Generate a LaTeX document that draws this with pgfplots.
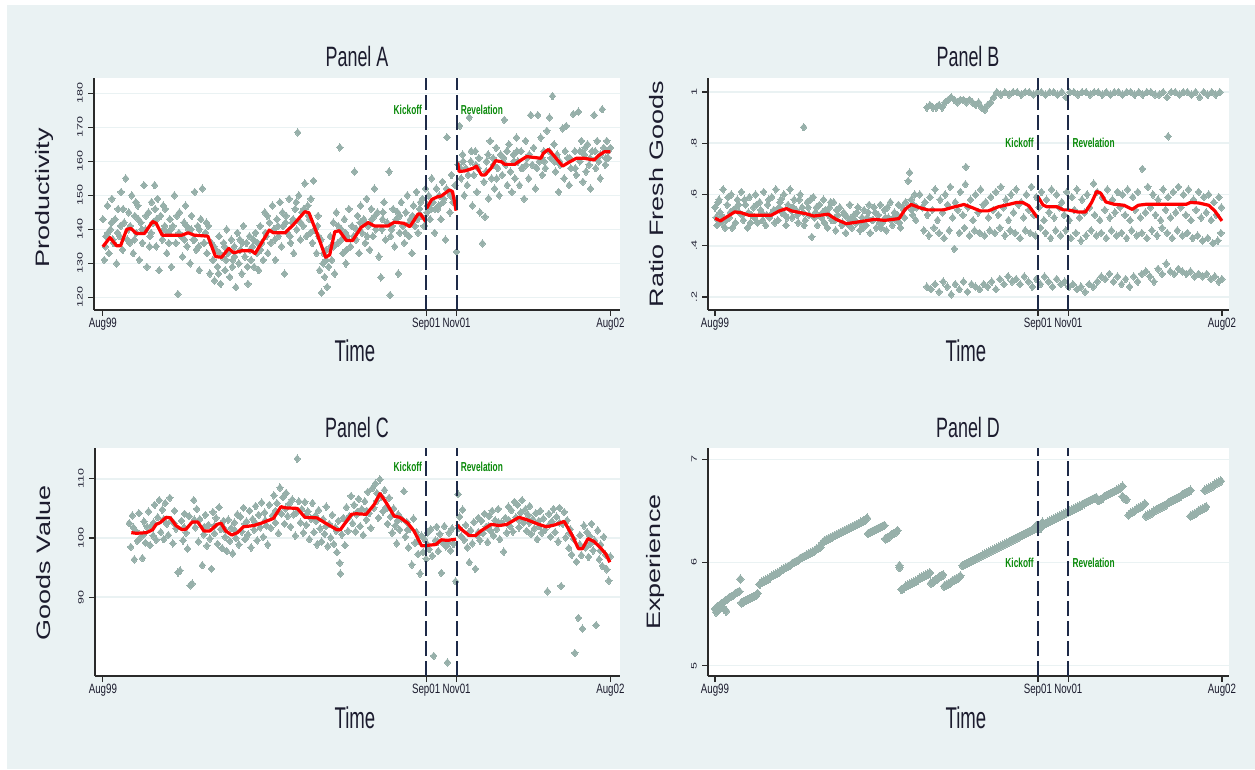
\documentclass[border=0pt]{standalone}
\usepackage{fontspec}
\setmainfont{Liberation Sans}
\usepackage{pgfplots}
\pgfplotsset{compat=1.18}
\definecolor{bgcol}{HTML}{EAF2F3}
\definecolor{dotcol}{HTML}{97B0AA}
\definecolor{navy}{HTML}{1E2A48}
\definecolor{txtcol}{HTML}{1C1C2E}
\definecolor{axiscol}{HTML}{2A2A2A}
\definecolor{kickcol}{HTML}{0A8A0A}
\newcommand{\sx}[1]{\scalebox{0.72}[1]{#1}}
\newcommand{\sk}[1]{\scalebox{0.64}[1]{#1}}
\newcommand{\sy}[1]{\scalebox{1}[0.62]{#1}}
\pgfplotsset{
  stata/.style={
    scale only axis, anchor=south west,
    axis x line*=bottom, axis y line*=left,
    axis line style={line width=1.2pt, draw=axiscol},
    tick style={line width=1.2pt, color=axiscol},
    tick align=outside, major tick length=6pt,
    ymajorgrids, grid style={line width=1.6pt, draw=bgcol},
    axis background/.style={fill=white},
    clip mode=individual,
    xtick={0,63.7,69.7,100},
    xticklabels={\sx{Aug99},\sx{Sep01},\sx{Nov01},\sx{Aug02}},
    xticklabel style={font=\fontsize{13.5}{14}\selectfont, text=txtcol, inner sep=1pt, yshift=-1pt},
    yticklabel style={font=\fontsize{12.5}{13}\selectfont, text=txtcol, xshift=-4pt, rotate=90, anchor=south, inner sep=1pt},
  },
  dots/.style={only marks, mark=diamond*, mark size=3.7pt, color=dotcol, mark options={line width=0pt, xscale=1.15}},
  redl/.style={no marks, color=red, line width=3.2pt, line join=round},
  vl/.style={no marks, color=navy, line width=2.1pt, dash pattern=on 15pt off 5pt},
}
\tikzset{
  kick/.style={font=\fontsize{13}{14}\selectfont\bfseries, text=kickcol, inner sep=1pt},
  ttl/.style={font=\fontsize{28}{30}\selectfont, text=txtcol, anchor=base, inner sep=0pt},
  xl/.style={font=\fontsize{30}{32}\selectfont, text=txtcol, anchor=base, inner sep=0pt},
  yl/.style={font=\fontsize{27}{29}\selectfont, text=txtcol, anchor=center, rotate=90, inner sep=0pt},
}
\begin{document}
\begin{tikzpicture}
\fill[white] (0pt,0pt) rectangle (1255pt,769pt);
\fill[bgcol] (7pt,0pt) rectangle (1255pt,764pt);

% ---------------- Panel A
\begin{axis}[stata, at={(94pt,459pt)}, width=526pt, height=232pt,
  xmin=-1.74, xmax=101.9, ymin=116.3, ymax=184.5,
  ytick={120,130,140,150,160,170,180},
  yticklabels={\sy{120},\sy{130},\sy{140},\sy{150},\sy{160},\sy{170},\sy{180}}]
\addplot[dots] coordinates {
(0.0,143) (0.3,131) (0.6,138) (0.9,147) (1.2,133) (1.5,140) (1.8,149) (2.1,136) (2.4,143) (2.7,130)
(3.0,146) (3.3,138) (3.6,151) (3.9,134) (4.2,142) (4.5,155) (4.8,137) (5.1,145) (5.4,141) (5.7,150)
(6.0,133) (6.3,144) (6.6,139) (6.9,147) (7.2,131) (7.5,142) (7.8,136) (8.1,153) (8.4,140) (8.7,129)
(9.0,145) (9.3,138) (9.6,148) (9.9,142) (10.2,153) (10.5,135) (10.8,149) (11.1,128) (11.4,144) (11.7,137)
(12.0,140) (12.3,146) (12.6,133) (12.9,139) (13.2,143) (13.5,129) (13.8,141) (14.1,150) (14.4,136) (14.8,121)
(15.1,145) (15.4,138) (15.7,132) (16.0,142) (16.3,147) (16.6,135) (16.9,140) (17.2,130) (17.5,144) (17.8,137)
(18.1,151) (18.4,134) (18.7,141) (19.0,128) (19.3,143) (19.6,152) (19.9,136) (20.2,139) (20.5,133) (20.8,141)
(21.1,127) (21.4,136) (21.7,131) (22.0,125) (22.3,134) (22.6,129) (22.9,138) (23.2,124) (23.5,132) (23.8,136)
(24.1,128) (24.4,140) (24.7,133) (25.0,126) (25.3,137) (25.6,131) (25.9,135) (26.2,123) (26.5,139) (26.8,130)
(27.1,134) (27.4,127) (27.7,141) (28.0,132) (28.3,136) (28.6,124) (28.9,138) (29.2,131) (29.5,135) (29.8,129)
(30.1,139) (30.4,133) (30.7,128) (31.0,141) (31.3,136) (31.6,131) (31.9,145) (32.2,138) (32.5,133) (32.8,142)
(33.1,136) (33.4,147) (33.7,140) (34.0,131) (34.3,143) (34.6,138) (34.9,148) (35.2,135) (35.5,141) (35.8,127)
(36.1,144) (36.4,139) (36.7,149) (37.0,136) (37.3,142) (37.6,133) (37.9,146) (38.2,140) (38.4,168.5) (38.6,150)
(38.9,137) (39.2,145) (39.5,141) (39.8,153.5) (40.1,138) (40.4,147) (40.7,143) (41.0,149) (41.3,136) (41.5,154.3)
(41.8,140) (42.1,133) (42.4,144) (42.7,128) (43.0,137) (43.1,121.4) (43.4,130) (43.7,126) (44.0,134) (44.2,123.1)
(44.5,129) (44.8,138) (45.1,131) (45.4,142) (45.7,127) (46.0,145) (46.3,136) (46.7,164.1) (47.0,140) (47.3,133)
(47.6,143) (47.9,130) (48.2,138) (48.5,146) (48.8,135) (49.1,141) (49.6,157) (49.9,137) (50.2,144) (50.5,133)
(50.8,147) (51.1,139) (51.4,143) (51.7,136) (52.0,149) (52.3,141) (52.6,134) (52.9,146) (53.2,138) (53.5,152)
(53.8,140) (54.1,145) (54.4,132) (54.8,125.9) (55.1,143) (55.4,148) (55.7,137) (56.0,142) (56.4,157) (56.6,120.7)
(56.9,140) (57.2,146) (57.5,135) (57.8,143) (58.2,127) (58.5,139) (58.8,148) (59.1,141) (59.4,136) (59.7,145)
(60.0,150) (60.3,138) (60.6,143) (60.9,133) (61.2,147) (61.5,141) (61.8,151) (62.1,139) (62.4,146) (62.7,144)
(63.0,149) (63.3,141) (63.6,152) (63.9,145) (64.2,150) (64.5,143) (64.8,155) (65.1,148) (65.4,139) (65.7,152)
(66.0,146) (66.3,150) (66.6,143) (66.9,154) (67.2,149) (67.5,137) (67.8,167.1) (68.1,151) (68.4,145) (68.7,156)
(69.0,148) (69.4,153) (69.7,133.4) (70.0,159) (70.3,170.4) (70.6,155) (70.9,162) (71.2,150) (71.5,158) (71.8,153)
(72.2,172.9) (72.5,160) (72.8,147) (73.1,156) (73.4,163) (73.7,151) (74.0,158) (74.3,145) (74.8,135.9) (75.1,154)
(75.3,143.7) (75.6,160) (76.0,149.1) (76.3,166) (76.6,155) (76.9,161) (77.2,152) (77.5,164) (77.8,158) (78.1,150)
(78.4,162) (78.7,156) (79.1,172.2) (79.4,159) (79.7,153) (80.0,165) (80.3,157) (80.6,151) (80.9,162) (81.2,155)
(81.5,167) (81.8,160) (82.1,153) (82.4,163) (82.7,158) (83.0,149) (83.3,166) (83.6,161) (83.9,155) (84.3,173.6)
(84.6,159) (84.9,164) (85.2,152) (85.7,173.6) (86.0,160) (86.3,167) (86.6,156) (86.9,163) (87.2,158) (87.5,169)
(88.0,172.9) (88.3,161) (88.6,179.2) (88.9,165) (89.2,157) (89.5,162) (89.8,151) (90.1,159) (90.6,169.7) (90.9,155)
(91.3,170.4) (91.6,161) (91.9,153) (92.2,158) (92.7,173.9) (93.0,163) (93.3,156) (93.7,174.6) (94.0,160) (94.3,166)
(94.6,154) (94.9,162) (95.2,157) (95.5,165) (95.8,159) (96.1,152) (96.4,163) (96.8,173.6) (97.1,158) (97.4,166)
(97.7,160) (98.0,155) (98.4,175.3) (98.7,164) (99.0,159) (99.3,166) (99.6,161) (100.0,164)
(1.0,139) (2.0,137) (3.5,141) (5.0,140) (6.2,137) (7.0,143) (8.5,144) (9.5,139) (10.3,146) (12.2,141)
(13.0,136) (15.0,139) (16.5,141) (18.0,137) (19.0,140) (20.0,136) (23.0,133) (24.0,135) (26.0,132) (27.5,136)
(29.0,134) (30.5,136) (32.0,139) (34.5,141) (36.0,142) (37.5,143) (39.0,142) (40.5,144) (42.5,138) (44.0,131)
(45.5,135) (47.0,137) (48.0,134) (50.0,140) (51.5,142) (53.0,143) (55.0,140) (57.0,141) (58.5,144) (60.5,142)
(62.0,143) (64.0,147) (65.5,146) (67.0,148) (68.5,150) (70.5,158) (72.0,156) (73.5,159) (75.5,157) (77.0,159)
(79.0,161) (81.0,160) (82.5,158) (84.0,162) (86.5,161) (88.0,163) (90.0,160) (92.0,161) (94.0,163) (96.0,161)
(98.0,162) (99.5,163)
(0.5,135) (1.7,142) (2.9,139) (4.0,146) (5.3,136) (6.5,148) (7.7,140) (9.2,135) (10.6,143) (11.9,147)
(13.4,140) (14.6,144) (16.1,137) (17.4,140) (18.9,135) (20.4,142) (21.9,135) (22.8,127) (24.3,131) (25.5,129)
(27.0,137) (28.5,129) (29.7,137) (31.1,134) (32.4,144) (33.9,137) (35.4,145) (36.9,138) (38.1,148) (39.6,146)
(40.9,139) (42.3,141) (43.5,133) (44.9,135) (46.4,141) (47.8,139) (49.4,138) (50.7,142) (52.1,138) (53.6,144)
(55.2,145) (56.7,138) (58.1,145) (59.6,139) (61.0,144) (62.6,148) (64.7,146) (66.2,147) (67.7,152) (69.2,149)
(71.0,160) (72.6,163) (74.1,161) (75.9,162) (77.6,155) (79.6,163) (81.6,163) (83.4,159) (85.5,158) (87.0,160)
(89.0,160) (91.1,163) (93.1,158) (95.0,164) (97.0,163) (99.1,161)
};
\addplot[redl] coordinates {
(0,134.9) (1.4,137.6) (2.7,135.2) (3.5,135.2) (4.7,140) (5.5,140.3) (6.6,138.8) (8.2,138.8) (9.8,142.3) (10.5,141.8)
(11.7,138.3) (15.6,138.3) (16.8,139) (18,138.3) (20.7,138) (22.2,132) (23.4,131.8) (24.8,134.4) (25.8,133.1) (27.3,133.7)
(29.3,133.7) (30,132.9) (32.8,139.8) (33.6,139) (35.9,139) (37.5,141.3) (39.8,145.2) (40.6,144.9) (42.2,138.8) (43.9,131.8)
(44.7,132.5) (45.7,139.3) (46.6,139.6) (48,136.7) (49.2,136.7) (50.9,140.6) (52.3,142) (53.5,141) (56.2,141) (57.4,142.1)
(59.3,141.8) (60.5,140.8) (62.1,144.5) (62.6,144.5) (63.6,142.3)
};
\addplot[redl] coordinates {
(63.8,146.2) (64.8,148.8) (66,149.6) (66.7,149.8) (68.3,151.6) (68.9,151.1) (69.6,145.5)
};
\addplot[redl] coordinates {
(69.9,159.6) (70.2,157) (71.4,157.2) (73,158) (73.6,158.6) (74.6,156) (75.3,156) (76.5,158) (77.4,160.2) (78.5,159.9)
(79.2,159.1) (81.2,159.1) (81.9,159.9) (83.5,161.4) (86.3,160.9) (86.8,162.4) (87.8,163.5) (88.8,161.8) (90.6,158.6) (91.7,159.6)
(93.3,160.9) (94.8,160.9) (96.8,160.4) (97.6,161.6) (98.8,162.8) (100,162.8)
};
\addplot[vl] coordinates {(63.7,116.3) (63.7,184.5)};
\addplot[vl] coordinates {(69.7,116.3) (69.7,184.5)};
\node[kick, anchor=east] at (axis cs:63.1,175.1) {\sk{Kickoff}};
\node[kick, anchor=west] at (axis cs:70.3,175.1) {\sk{Revelation}};
\end{axis}

% ---------------- Panel B
\begin{axis}[stata, at={(708pt,459pt)}, width=521pt, height=232pt,
  xmin=-1.38, xmax=101.4, ymin=0.149, ymax=1.055,
  ytick={0.2,0.4,0.6,0.8,1},
  yticklabels={\sy{.2},\sy{.4},\sy{.6},\sy{.8},\sy{1}}]
\addplot[dots] coordinates {
(0.0,.55) (0.4,.48) (0.8,.58) (1.2,.52) (1.6,.62) (2.0,.47) (2.4,.56) (2.8,.51) (3.2,.60) (3.6,.54)
(4.0,.49) (4.4,.58) (4.8,.53) (5.2,.61) (5.6,.50) (6.0,.56) (6.4,.47) (6.8,.59) (7.2,.52) (7.6,.55)
(8.0,.60) (8.4,.49) (8.8,.57) (9.2,.53) (9.6,.61) (10.0,.48) (10.4,.56) (10.8,.51) (11.2,.59) (11.6,.54)
(12.0,.62) (12.4,.50) (12.8,.57) (13.2,.53) (13.6,.60) (14.0,.48) (14.4,.56) (14.8,.62) (15.2,.51) (15.6,.58)
(16.0,.54) (16.4,.49) (16.8,.60) (17.2,.55) (17.5,.863) (17.8,.50) (18.2,.57) (18.6,.52) (19.1,.435) (19.4,.59)
(19.8,.53) (20.2,.48) (20.6,.56) (21.0,.51) (21.4,.58) (21.8,.54) (22.2,.47) (22.6,.55) (23.0,.50) (23.4,.57)
(23.8,.46) (24.2,.52) (24.6,.55) (25.0,.48) (25.4,.53) (25.8,.45) (26.2,.51) (26.6,.56) (27.0,.47) (27.4,.52)
(27.8,.49) (28.2,.55) (28.6,.46) (29.0,.51) (29.4,.54) (29.8,.48) (30.2,.53) (30.6,.45) (31.0,.50) (31.4,.55)
(31.8,.47) (32.2,.52) (32.6,.56) (33.0,.49) (33.4,.54) (33.8,.46) (34.2,.51) (34.6,.57) (35.0,.48) (35.4,.53)
(35.8,.50) (36.2,.56) (36.6,.47) (37.0,.55) (37.4,.51) (38.1,.653) (38.4,.686) (38.7,.58) (39.0,.52) (39.4,.60) (39.8,.55)
(0.2,.51) (1.0,.53) (2.2,.50) (3.0,.53) (4.2,.55) (5.4,.52) (6.6,.53) (7.8,.51) (9.0,.54) (10.2,.52)
(11.4,.53) (12.6,.55) (13.8,.52) (15.0,.54) (16.2,.52) (17.4,.53) (18.4,.55) (19.6,.51) (21.2,.53) (22.4,.52)
(23.6,.50) (25.2,.49) (26.4,.48) (27.6,.50) (28.8,.49) (30.0,.51) (31.2,.50) (32.4,.49) (33.6,.51) (34.8,.50)
(36.0,.52) (37.2,.54) (39.2,.56)
(0.6,.57) (1.4,.49) (2.6,.59) (3.4,.47) (4.6,.56) (5.8,.58) (7.0,.49) (8.2,.56) (9.4,.50) (10.6,.58)
(11.8,.49) (13.0,.58) (14.2,.51) (15.4,.55) (16.6,.58) (17.6,.48) (18.8,.58) (20.0,.55) (21.6,.49) (22.8,.57)
(24.0,.54) (25.6,.52) (26.8,.50) (28.0,.53) (29.2,.47) (30.4,.56) (31.6,.53) (32.8,.47) (34.0,.55) (35.2,.51)
(36.4,.49) (37.6,.57) (38.8,.54) (39.6,.50)
(41.8,.94) (42.4,.95) (43.0,.94) (43.6,.94) (44.2,.95) (44.8,.94) (45.4,.96) (46.0,.97) (46.6,.98) (47.2,.97)
(47.8,.96) (48.4,.97) (49.0,.97) (49.6,.96) (50.2,.97) (50.8,.96) (51.4,.95) (52.0,.96) (52.6,.94) (53.2,.93)
(53.8,.95) (54.4,.96) (55.0,.98) (55.6,1.0) (56.4,.99) (57.2,1.0) (58.0,.99) (58.8,1.0) (59.6,1.0) (60.4,.99)
(61.2,1.0) (62.0,1.0) (62.8,.99) (63.6,1.0) (64.4,1.0) (65.2,.99) (66.0,1.0) (66.8,1.0) (67.6,.99) (68.4,1.0)
(69.2,.98) (70.0,1.0) (70.8,1.0) (71.6,.99) (72.4,1.0) (73.2,1.0) (74.0,.99) (74.8,1.0) (75.6,1.0) (76.4,.99)
(77.2,1.0) (78.0,.99) (78.8,1.0) (79.6,1.0) (80.4,.99) (81.2,1.0) (82.0,1.0) (82.8,.99) (83.6,1.0) (84.4,.99)
(85.2,1.0) (86.0,1.0) (86.8,.99) (87.6,.99) (88.4,1.0) (89.2,.98) (90.0,1.0) (90.8,1.0) (91.6,.99) (92.4,1.0)
(93.2,1.0) (94.0,.99) (94.8,1.0) (95.6,.98) (96.4,1.0) (97.2,.99) (98.0,1.0) (98.8,.99) (99.6,1.0)
(40.4,.60) (41.4,.57) (42.4,.59) (43.4,.62) (44.4,.58) (45.4,.60) (46.4,.63) (47.4,.57) (48.4,.61) (49.4,.64)
(49.5,.708) (50.4,.58) (51.4,.60) (52.4,.62) (53.4,.57) (54.4,.59) (55.4,.61) (56.4,.63) (57.4,.58) (58.4,.60)
(59.4,.62) (60.4,.57) (61.4,.60) (62.4,.63) (63.4,.59) (64.4,.61) (65.4,.58) (66.4,.62) (67.4,.60) (68.4,.57)
(69.4,.61) (70.4,.59) (71.4,.62) (72.4,.58) (73.4,.60) (74.7,.643) (75.4,.61) (76.4,.59) (77.4,.62) (78.4,.58)
(79.4,.61) (80.4,.60) (81.4,.62) (82.4,.59) (83.4,.61) (84.3,.70) (85.4,.63) (86.4,.60) (87.4,.58) (88.4,.62)
(89.4,.59) (89.4,.827) (90.4,.61) (91.4,.63) (92.4,.60) (93.4,.62) (94.4,.58) (95.4,.61) (96.4,.59) (97.4,.60) (98.4,.57) (99.4,.59)
(40.9,.55) (41.9,.52) (42.9,.54) (43.9,.50) (44.9,.53) (45.9,.56) (46.9,.51) (47.9,.54) (48.9,.52) (49.9,.55)
(50.9,.50) (51.9,.53) (52.9,.56) (53.9,.51) (54.9,.54) (55.9,.52) (56.9,.55) (57.9,.50) (58.9,.53) (59.9,.56)
(60.9,.51) (61.9,.54) (62.9,.52) (63.9,.55) (64.9,.50) (65.9,.53) (66.9,.51) (67.9,.55) (68.9,.52) (69.9,.50)
(70.9,.54) (71.9,.51) (72.9,.53) (73.9,.55) (74.9,.52) (75.9,.50) (76.9,.54) (77.9,.51) (78.9,.53) (79.9,.55)
(80.9,.52) (81.9,.50) (82.9,.54) (83.9,.51) (84.9,.53) (85.9,.55) (86.9,.52) (87.9,.50) (88.9,.54) (89.9,.51)
(90.9,.53) (91.9,.55) (92.9,.52) (93.9,.50) (94.9,.54) (95.9,.51) (96.9,.53) (97.9,.50) (98.9,.52) (99.9,.55)
(41.2,.46) (42.2,.44) (43.2,.47) (44.2,.45) (45.2,.43) (46.2,.46) (47.2,.388) (48.2,.45) (49.2,.47) (50.2,.44)
(51.2,.46) (52.2,.45) (53.2,.44) (54.2,.46) (55.2,.45) (56.2,.47) (57.2,.44) (58.2,.46) (59.2,.45) (60.2,.43)
(61.2,.46) (62.2,.45) (63.2,.44) (64.2,.47) (65.2,.45) (66.2,.43) (67.2,.46) (68.2,.44) (69.2,.46) (70.2,.43)
(71.2,.45) (72.2,.42) (73.2,.44) (74.2,.46) (75.2,.44) (76.2,.45) (77.2,.43) (78.2,.46) (79.2,.44) (80.2,.45)
(81.2,.43) (82.2,.46) (83.2,.44) (84.2,.45) (85.2,.43) (86.2,.46) (87.2,.44) (88.2,.47) (89.2,.45) (90.2,.43)
(91.2,.46) (92.2,.44) (93.2,.45) (94.2,.43) (95.2,.44) (96.2,.42) (97.2,.43) (98.2,.41) (99.2,.42) (99.8,.45)
(41.8,.24) (42.6,.23) (43.4,.25) (44.2,.22) (45.0,.26) (45.8,.24) (46.6,.21) (47.4,.25) (48.2,.23) (49.0,.26)
(49.8,.22) (50.6,.25) (51.4,.24) (52.2,.23) (53.0,.25) (53.8,.24) (54.6,.26) (55.4,.23) (56.2,.27) (57.0,.25)
(57.8,.28) (58.6,.26) (59.4,.27) (60.2,.25) (61.0,.28) (61.8,.26) (62.6,.24) (63.4,.27) (64.2,.25) (65.0,.28)
(65.8,.26) (66.6,.24) (67.4,.27) (68.2,.25) (69.0,.26) (69.8,.24) (70.6,.25) (71.4,.23) (72.2,.24) (73.0,.22)
(73.8,.25) (74.6,.24) (75.4,.26) (76.2,.28) (77.0,.27) (77.8,.29) (78.6,.26) (79.4,.28) (80.2,.25) (81.0,.27)
(81.8,.24) (82.6,.28) (83.4,.26) (84.2,.29) (85.0,.30) (85.8,.28) (86.6,.26) (87.4,.31) (88.2,.29) (89.0,.33)
(89.8,.30) (90.6,.29) (91.4,.31) (92.2,.30) (93.0,.29) (93.8,.30) (94.6,.28) (95.4,.29) (96.2,.28) (97.0,.29)
(97.8,.27) (98.6,.28) (99.4,.26) (100.0,.27)
};
\addplot[redl] coordinates {
(0,.507) (1.1,.497) (2.1,.51) (3.9,.532) (5.1,.529) (6.7,.519) (11.1,.519) (12.7,.536) (14.1,.545) (15.1,.536)
(17.9,.525) (19.5,.516) (22.3,.523) (23.9,.503) (25.9,.486) (28.3,.493) (31.5,.503) (33.5,.499) (36.3,.506) (37.5,.542)
(38.7,.561) (40.3,.549) (41.9,.54) (45.1,.54) (46.7,.549) (49.1,.561) (50.7,.549) (52.3,.536) (53.9,.536) (55.9,.552)
(57.9,.561) (59.5,.569) (60.7,.569) (61.9,.556) (63.6,.51)
};
\addplot[redl] coordinates {
(63.7,.592) (64.7,.559) (65.5,.552) (67.5,.552) (68.7,.54) (69.6,.54)
(71.5,.532) (73.1,.532) (74.3,.569) (75.3,.612) (76.1,.605) (77.1,.571) (78.7,.562) (80.7,.558) (82.3,.542) (83.5,.558)
(85.1,.562) (93.0,.562) (93.8,.569) (95.4,.567) (97.4,.558) (98.6,.536) (100,.497)
};
\addplot[vl] coordinates {(63.7,0.149) (63.7,1.055)};
\addplot[vl] coordinates {(69.7,0.149) (69.7,1.055)};
\node[kick, anchor=east] at (axis cs:63.1,0.8) {\sk{Kickoff}};
\node[kick, anchor=west] at (axis cs:70.3,0.8) {\sk{Revelation}};
\end{axis}

% ---------------- Panel C
\begin{axis}[stata, at={(95pt,93pt)}, width=525pt, height=228pt,
  xmin=-1.55, xmax=101.9, ymin=76.7, ymax=115.2,
  ytick={90,100,110},
  yticklabels={\sy{90},\sy{100},\sy{110}}]
\addplot[dots] coordinates {
(5.2,102.5) (5.5,98.5) (5.8,103.8) (6.2,96.4) (6.5,101.2) (6.8,99.5) (7.1,104.2) (7.4,100.1) (7.8,96.6) (8.1,102.8)
(8.4,99.2) (8.7,101.9) (9.0,104.5) (9.3,98.8) (9.6,102.1) (9.9,100.4) (10.2,105.6) (10.5,99.7) (10.8,103.5) (11.1,106.4)
(11.4,101.0) (11.7,104.8) (12.0,99.8) (12.3,105.9) (12.6,102.4) (12.9,100.5) (13.2,106.8) (13.5,103.0) (13.8,99.1) (14.1,104.6)
(14.4,101.6) (14.8,94.2) (15.2,94.5) (15.5,102.9) (15.8,99.6) (16.1,104.1) (16.4,100.9) (16.7,98.2) (17.0,103.7) (17.2,92.0)
(17.6,92.3) (17.9,106.4) (18.2,101.8) (18.5,104.9) (18.8,99.4) (19.1,103.2) (19.6,95.4) (19.9,100.6) (20.2,103.9) (20.5,98.7)
(20.8,102.2) (21.1,99.9) (21.4,94.8) (21.7,104.4) (22.0,100.8) (22.3,103.4) (22.6,99.0) (22.9,105.2) (23.2,101.5) (23.5,98.3)
(23.8,102.9) (24.1,100.2) (24.4,97.8) (24.7,103.1) (25.0,99.5) (25.3,101.7) (25.6,97.4) (25.9,102.6) (26.2,100.0) (26.5,104.0)
(26.8,98.9) (27.1,103.6) (27.4,101.1) (27.7,105.1) (28.0,99.8) (28.3,102.8) (28.6,100.6) (28.9,104.6) (29.2,98.4) (29.5,103.2)
(29.8,101.4) (30.1,105.4) (30.4,99.6) (30.7,103.9) (31.0,101.8) (31.3,106.0) (31.6,100.2) (31.9,104.3) (32.2,102.1) (32.5,98.9)
(32.8,105.6) (33.1,101.7) (33.4,103.8) (33.7,107.2) (34.0,102.6) (34.3,105.9) (34.6,100.8) (34.9,108.5) (35.2,104.1) (35.5,106.9)
(35.8,102.4) (36.1,107.6) (36.4,103.7) (36.7,105.8) (37.0,101.9) (37.3,106.5) (37.6,104.0) (37.9,100.4) (38.3,113.4) (38.6,106.2)
(38.9,102.6) (39.2,104.9) (39.5,100.9) (39.8,106.1) (40.1,102.2) (40.4,104.5) (40.7,99.8) (41.0,103.3) (41.3,105.9) (41.6,101.0)
(41.9,103.8) (42.2,98.9) (42.5,104.7) (42.8,101.6) (43.1,99.4) (43.4,103.2) (43.7,100.7) (44.0,105.3) (44.3,98.6) (44.6,102.4)
(44.9,100.1) (45.2,103.9) (45.5,99.0) (45.8,101.8) (46.1,97.6) (46.4,102.9) (46.7,95.8) (46.8,94.0) (47.1,100.6) (47.4,103.4)
(47.7,98.8) (48.0,105.2) (48.3,101.2) (48.6,103.7) (48.9,107.1) (49.2,102.5) (49.5,105.6) (49.8,101.1) (50.1,104.4) (50.4,106.6)
(50.7,102.0) (51.0,104.9) (51.3,100.5) (51.6,106.2) (51.9,103.1) (52.2,107.8) (52.5,104.2) (52.8,101.7) (53.1,108.4) (53.4,105.1)
(53.7,109.2) (54.0,106.3) (54.3,103.4) (54.6,109.9) (54.9,107.0) (55.2,104.5) (55.5,108.1) (55.8,105.2) (56.1,102.4) (56.4,106.8)
(56.7,103.6) (57.0,100.9) (57.3,105.0) (57.6,102.1) (57.9,99.1) (58.2,104.0) (58.5,101.4) (58.8,103.3) (59.3,107.9) (59.6,100.2)
(59.9,102.7) (60.2,98.4) (60.5,101.6) (60.9,95.5) (61.2,103.3) (61.5,99.2) (61.8,101.0) (62.1,97.3) (62.5,94.0) (62.8,100.4)
(63.1,97.6) (63.4,99.8) (63.7,96.5) (64.0,100.9) (64.3,98.1) (64.6,101.5) (64.9,97.0) (65.2,80.1) (65.5,99.6) (65.8,101.9)
(66.1,97.8) (66.4,100.7) (66.7,94.1) (67.0,99.2) (67.3,102.0) (67.6,98.6) (67.9,79.0) (68.2,100.9) (68.5,97.9) (68.8,101.6)
(69.1,99.0) (69.5,92.7) (70.0,107.4) (70.3,103.6) (70.6,100.3) (70.9,104.8) (71.2,99.7) (71.5,102.2) (71.8,98.4) (72.2,95.9)
(72.5,101.3) (72.8,99.1) (73.1,102.7) (73.4,94.8) (73.7,100.5) (74.0,103.4) (74.3,99.6) (74.6,102.9) (74.9,100.8) (75.2,104.1)
(75.5,101.9) (75.8,99.3) (76.1,103.7) (76.4,101.2) (76.7,104.6) (77.0,100.4) (77.3,103.0) (77.6,101.5) (77.9,104.9) (78.2,99.8)
(78.5,102.6) (79.0,97.7) (79.3,103.4) (79.6,100.9) (79.9,105.3) (80.2,102.0) (80.5,104.7) (80.8,101.1) (81.1,106.1) (81.4,103.5)
(81.7,105.6) (82.0,101.8) (82.3,104.3) (82.6,106.4) (82.9,102.6) (83.2,104.8) (83.5,101.2) (83.8,103.9) (84.1,105.4) (84.4,100.7)
(84.7,103.2) (85.0,101.6) (85.3,104.2) (85.6,99.8) (85.9,102.9) (86.2,104.6) (86.5,100.9) (86.8,103.3) (87.1,101.4) (87.6,91.0)
(87.9,104.1) (88.2,100.2) (88.5,102.8) (88.8,104.9) (89.1,101.0) (89.4,103.6) (89.7,99.4) (90.0,105.1) (90.3,91.9) (90.6,102.4)
(90.9,104.4) (91.2,100.1) (91.5,103.0) (91.8,98.3) (92.1,101.5) (92.4,97.2) (92.7,99.9) (93.0,80.6) (93.3,96.0) (93.7,86.5)
(94.0,100.5) (94.3,97.1) (94.5,84.7) (94.8,102.1) (95.1,98.4) (95.4,101.0) (95.7,96.8) (96.0,100.3) (96.3,102.4) (96.6,97.9)
(96.9,99.6) (97.2,85.3) (97.5,101.3) (97.8,96.4) (98.1,98.9) (98.4,95.3) (98.7,100.2) (99.0,97.2) (99.3,94.7) (99.7,92.8) (100.0,96.9)
(6.0,101.8) (8.0,100.6) (10.0,102.6) (12.0,103.2) (14.0,102.5) (16.0,101.8) (18.0,103.1) (20.0,101.9) (22.0,102.1) (24.0,101.5)
(26.0,101.3) (28.0,102.4) (30.0,102.6) (32.0,103.0) (34.0,104.6) (36.0,105.0) (38.0,104.2) (40.0,103.9) (42.0,102.9) (44.0,102.0)
(46.0,101.2) (48.0,103.1) (50.0,104.0) (52.0,104.6) (54.0,107.6) (56.0,105.1) (58.0,102.9) (60.0,101.4) (62.0,99.5) (64.0,98.9)
(66.0,99.4) (68.0,99.2) (70.2,101.7) (72.0,100.9) (74.0,101.0) (76.0,102.0) (78.0,102.6) (80.0,103.0) (82.0,103.1) (84.0,102.6)
(86.0,102.0) (88.0,102.3) (90.0,102.6) (92.0,100.9) (94.0,98.9) (96.0,99.0) (98.0,97.9)
};
\addplot[redl] coordinates {
(5.6,100.9) (6.6,100.8) (8.6,100.9) (9.8,101.4) (10.5,102.3) (11.3,102.6) (12.5,103.5) (13.3,103.4) (14.4,102.1) (15.6,101.4)
(16.4,101.5) (17.6,102.7) (18.7,102.7) (19.9,101.2) (21.1,101.2) (22.5,102.3) (23.3,102.5) (24.2,101.2) (25.4,100.5) (26.5,100.9)
(27.7,101.9) (29.7,102.1) (31.2,102.5) (33.6,103.3) (35.1,105.3) (35.9,105.1) (38.3,105) (39.8,103.5) (42.2,103.4) (43.7,102.6)
(46.1,101.4) (46.8,101.4) (49,104) (49.9,104.1) (51.9,104) (53.5,105.7) (54.6,107.5) (55.8,106) (57.4,103.7) (58.5,103.5)
(60.1,102.5) (61.3,101.2) (62.8,98.7) (63.7,98.7) (64.4,98.8) (65.6,98.9) (66.7,99.7) (67.9,99.6) (69.6,99.8)
};
\addplot[redl] coordinates {
(69.7,102.3) (70.6,101.5) (72.2,100.4) (73.4,100.4) (74.5,101.2) (76.5,102.3) (78.1,102.1) (79.6,102.3) (82,103.5) (83.5,103.1)
(85.9,102.3) (87.4,101.9) (89,102.2) (90.9,102.8) (92.5,100.4) (93.7,98.2) (94.5,98.2) (95.6,99.9) (96.8,99.4) (98,98.4)
(99.1,97.3) (99.9,95.9)
};
\addplot[vl] coordinates {(63.7,76.7) (63.7,115.2)};
\addplot[vl] coordinates {(69.7,76.7) (69.7,115.2)};
\node[kick, anchor=east] at (axis cs:63.1,112) {\sk{Kickoff}};
\node[kick, anchor=west] at (axis cs:70.3,112) {\sk{Revelation}};
\end{axis}

% ---------------- Panel D
\begin{axis}[stata, at={(708pt,93pt)}, width=521pt, height=228pt,
  xmin=-1.38, xmax=101.4, ymin=4.9, ymax=7.11,
  ytick={5,6,7},
  yticklabels={\sy{5},\sy{6},\sy{7}}]
\addplot[dots, mark size=4.3pt] coordinates {
(0.0,5.55) (0.4,5.57) (0.8,5.58) (1.2,5.60) (1.6,5.61) (2.0,5.63) (2.4,5.64) (2.8,5.66) (3.2,5.67) (3.6,5.68)
(4.0,5.70) (4.4,5.71) (4.8,5.72) (0.2,5.52) (0.6,5.54) (1.0,5.56) (1.8,5.55) (2.2,5.53) (5.0,5.84)
(5.2,5.61) (5.6,5.62) (6.0,5.63) (6.4,5.64) (6.8,5.65) (7.2,5.66) (7.6,5.67) (8.0,5.68) (8.4,5.70)
(8.8,5.79) (9.2,5.81) (9.6,5.82) (10.0,5.83) (10.4,5.84) (10.8,5.85) (11.2,5.87) (11.6,5.88) (12.0,5.89) (12.4,5.90)
(12.8,5.91) (13.2,5.93) (13.6,5.94) (14.0,5.95) (14.4,5.96) (14.8,5.97) (15.2,5.99) (15.6,6.00) (16.0,6.01) (16.4,6.02)
(16.8,6.04) (17.2,6.05) (17.6,6.06) (18.0,6.07) (18.4,6.08) (18.8,6.09) (19.2,6.10) (19.6,6.11) (20.0,6.13) (20.4,6.14) (20.8,6.15)
(21.2,6.19) (21.6,6.21) (22.0,6.22) (22.4,6.23) (22.8,6.24) (23.2,6.25) (23.6,6.26) (24.0,6.27) (24.4,6.28) (24.8,6.29)
(25.2,6.30) (25.6,6.31) (26.0,6.32) (26.4,6.33) (26.8,6.34) (27.2,6.35) (27.6,6.36) (28.0,6.37) (28.4,6.38) (28.8,6.39)
(29.2,6.40) (29.6,6.41) (30.0,6.43)
(30.2,6.28) (30.6,6.29) (31.0,6.30) (31.4,6.31) (31.8,6.32) (32.2,6.33) (32.6,6.34) (33.0,6.35) (33.4,6.36)
(33.6,6.23) (34.0,6.24) (34.4,6.25) (34.8,6.27) (35.2,6.28) (35.6,6.29) (36.0,6.31) (36.4,5.95) (36.4,5.97)
(36.8,5.74) (37.2,5.75) (37.6,5.77) (38.0,5.78) (38.4,5.79) (38.8,5.80) (39.2,5.81) (39.6,5.82) (40.0,5.83) (40.4,5.85)
(40.8,5.86) (41.2,5.87) (41.6,5.88) (42.0,5.89) (42.4,5.90)
(42.6,5.80) (43.0,5.81) (43.4,5.83) (43.8,5.84) (44.2,5.86) (44.6,5.87) (45.0,5.88)
(45.2,5.77) (45.6,5.78) (46.0,5.79) (46.4,5.80) (46.8,5.82) (47.2,5.83) (47.6,5.84) (48.0,5.85) (48.4,5.87)
(48.8,5.97) (49.2,5.98) (49.6,5.99) (50.0,6.00) (50.4,6.01) (50.8,6.02) (51.2,6.03) (51.6,6.04) (52.0,6.05) (52.4,6.06)
(52.8,6.07) (53.2,6.08) (53.6,6.09) (54.0,6.10) (54.4,6.11) (54.8,6.12) (55.2,6.13) (55.6,6.14) (56.0,6.15) (56.4,6.16)
(56.8,6.17) (57.2,6.18) (57.6,6.19) (58.0,6.20) (58.4,6.21) (58.8,6.22) (59.2,6.23) (59.6,6.24) (60.0,6.25) (60.4,6.26)
(60.8,6.27) (61.2,6.28) (61.6,6.29) (62.0,6.30) (62.4,6.31) (62.8,6.32) (63.2,6.33) (63.6,6.34) (64.0,6.35) (64.4,6.36)
(64.8,6.37) (65.2,6.38) (65.6,6.39) (66.0,6.40) (66.4,6.41) (66.8,6.42) (67.2,6.43) (67.6,6.44) (68.0,6.45) (68.4,6.46)
(68.8,6.47) (69.2,6.48) (69.6,6.49) (70.0,6.50) (70.4,6.51) (70.8,6.52) (71.2,6.53) (71.6,6.54) (72.0,6.55) (72.4,6.56)
(72.8,6.57) (73.2,6.58) (73.6,6.59) (74.0,6.60) (74.4,6.61) (74.8,6.62) (75.2,6.63) (63.4,6.36) (64.2,6.33) (64.6,6.39)
(75.6,6.60) (76.0,6.61) (76.4,6.62) (76.8,6.64) (77.2,6.65) (77.6,6.66) (78.0,6.67) (78.4,6.68) (78.8,6.69) (79.2,6.70)
(79.6,6.71) (80.0,6.72) (80.4,6.74) (80.4,6.64) (80.8,6.62) (81.2,6.61)
(81.6,6.46) (82.0,6.48) (82.4,6.49) (82.8,6.50) (83.2,6.52) (83.6,6.53) (84.0,6.54) (84.4,6.55) (84.8,6.57)
(85.0,6.45) (85.4,6.46) (85.8,6.47) (86.2,6.48) (86.6,6.50) (87.0,6.51) (87.4,6.52) (87.8,6.53) (88.2,6.54) (88.6,6.55)
(89.0,6.56) (89.4,6.58) (89.8,6.59) (90.2,6.60) (90.6,6.61) (91.0,6.62) (91.4,6.63) (91.8,6.64) (92.2,6.66) (92.6,6.67)
(93.0,6.68) (93.4,6.69) (93.8,6.70)
(93.8,6.45) (94.2,6.46) (94.6,6.47) (95.0,6.48) (95.4,6.50) (95.8,6.51) (96.2,6.52) (96.6,6.53) (96.9,6.54)
(96.6,6.70) (97.0,6.71) (97.4,6.72) (97.8,6.73) (98.2,6.74) (98.6,6.76) (99.0,6.77) (99.4,6.78) (99.8,6.79)
};
\addplot[vl] coordinates {(63.7,4.9) (63.7,7.11)};
\addplot[vl] coordinates {(69.7,4.9) (69.7,7.11)};
\node[kick, anchor=east] at (axis cs:63.1,6.0) {\sk{Kickoff}};
\node[kick, anchor=west] at (axis cs:70.3,6.0) {\sk{Revelation}};
\end{axis}

% ---------------- titles and labels
\node[ttl] at (357pt,702pt) {\scalebox{0.64}[1]{Panel A}};
\node[ttl] at (968pt,702pt) {\scalebox{0.64}[1]{Panel B}};
\node[ttl] at (357pt,331pt) {\scalebox{0.64}[1]{Panel C}};
\node[ttl] at (968pt,331pt) {\scalebox{0.64}[1]{Panel D}};
\node[xl] at (355pt,407pt) {\scalebox{0.62}[1]{Time}};
\node[xl] at (966pt,407pt) {\scalebox{0.62}[1]{Time}};
\node[xl] at (355pt,41pt) {\scalebox{0.62}[1]{Time}};
\node[xl] at (966pt,41pt) {\scalebox{0.62}[1]{Time}};
\node[yl] at (44pt,571pt) {\scalebox{1}[0.72]{Productivity}};
\node[yl] at (657pt,575pt) {\scalebox{1}[0.72]{Ratio Fresh Goods}};
\node[yl] at (44pt,206pt) {\scalebox{1}[0.72]{Goods Value}};
\node[yl] at (655pt,207pt) {\scalebox{1}[0.72]{Experience}};
\end{tikzpicture}
\end{document}
